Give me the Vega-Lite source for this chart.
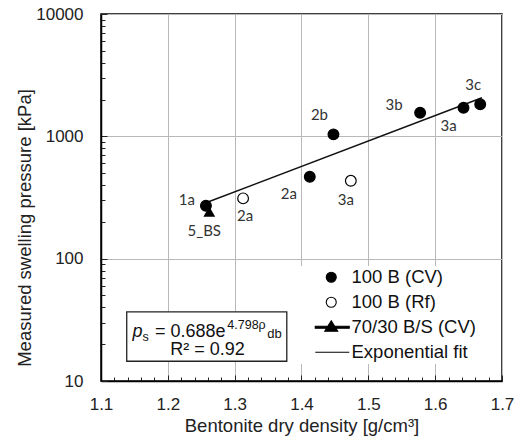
{
  "$schema": "https://vega.github.io/schema/vega-lite/v6.json",
  "width": 401,
  "height": 367,
  "autosize": "none",
  "padding": {"left": 101, "top": 14, "right": 24, "bottom": 63},
  "background": "white",
  "config": {
    "view": {"stroke": "black", "strokeWidth": 1.5},
    "axis": {
      "labelFont": "Liberation Sans",
      "labelFontSize": 17,
      "labelColor": "#222",
      "titleFont": "Liberation Sans",
      "titleFontSize": 18.5,
      "titleFontWeight": "normal",
      "titleColor": "#222",
      "domainColor": "black",
      "domainWidth": 1.5,
      "tickColor": "#222",
      "tickWidth": 1,
      "gridColor": "#b8b8b8",
      "gridWidth": 1
    }
  },
  "datasets": {
    "points": [
      {"id": "cv1a", "series": "100 B (CV)", "density": 1.257, "pressure": 271, "label": "1a"},
      {"id": "cv2a", "series": "100 B (CV)", "density": 1.4124, "pressure": 467, "label": "2a"},
      {"id": "cv2b", "series": "100 B (CV)", "density": 1.4478, "pressure": 1038, "label": "2b"},
      {"id": "cv3b", "series": "100 B (CV)", "density": 1.5775, "pressure": 1560, "label": "3b"},
      {"id": "cv3a", "series": "100 B (CV)", "density": 1.6424, "pressure": 1714, "label": "3a"},
      {"id": "cv3c", "series": "100 B (CV)", "density": 1.6674, "pressure": 1827, "label": "3c"},
      {"id": "rf2a", "series": "100 B (Rf)", "density": 1.3126, "pressure": 311, "label": "2a"},
      {"id": "rf3a", "series": "100 B (Rf)", "density": 1.4738, "pressure": 433, "label": "3a"},
      {"id": "bs5", "series": "70/30 B/S (CV)", "density": 1.262, "pressure": 242, "label": "5_BS"}
    ],
    "fit": [
      {"series": "Exponential fit", "density": 1.258, "pressure": 287.7},
      {"series": "Exponential fit", "density": 1.67, "pressure": 2067.0}
    ]
  },
  "resolve": {"axis": {"x": "independent", "y": "independent"}},
  "layer": [
    {
      "data": {"name": "points"},
      "encoding": {
        "x": {
          "field": "density", "type": "quantitative",
          "scale": {"domain": [1.1, 1.7], "nice": false, "zero": false},
          "axis": {
            "title": "Bentonite dry density [g/cm³]",
            "values": [1.1,1.12,1.14,1.16,1.18,1.2,1.22,1.24,1.26,1.28,1.3,1.32,1.34,1.36,1.38,1.4,1.42,1.44,1.46,1.48,1.5,1.52,1.54,1.56,1.58,1.6,1.62,1.64,1.66,1.68,1.7],
            "labelExpr": "abs(datum.value*10 - round(datum.value*10)) < 0.001 ? format(datum.value, '.1f') : ''",
            "gridOpacity": {"condition": {"test": "abs(datum.value*10 - round(datum.value*10)) < 0.001", "value": 1}, "value": 0},
            "tickSize": {"condition": {"test": "abs(datum.value*10 - round(datum.value*10)) < 0.001", "value": -6}, "value": -4},
            "labelPadding": 21,
            "labelFlush": false,
            "labelOverlap": false,
            "titleY": 35,
            "titleBaseline": "top"
          }
        },
        "y": {
          "field": "pressure", "type": "quantitative",
          "scale": {"type": "log", "domain": [10, 10000], "nice": false},
          "axis": {
            "title": "Measured swelling pressure [kPa]",
            "values": [10,20,30,40,50,60,70,80,90,100,200,300,400,500,600,700,800,900,1000,2000,3000,4000,5000,6000,7000,8000,9000,10000],
            "labelExpr": "indexof([10,100,1000,10000], datum.value) >= 0 ? '' + datum.value : ''",
            "gridOpacity": {"condition": {"test": "indexof([10,100,1000,10000], datum.value) >= 0", "value": 1}, "value": 0},
            "tickSize": {"condition": {"test": "indexof([10,100,1000,10000], datum.value) >= 0", "value": -6}, "value": -4},
            "labelPadding": 24,
            "labelFlush": false,
            "labelOverlap": false,
            "titleX": -77,
            "titleY": 213.5,
            "titleBaseline": "middle"
          }
        }
      },
      "layer": [
        {
          "data": {"name": "fit"},
          "mark": {"type": "line", "color": "#111", "strokeWidth": 1.5}
        },
        {
          "transform": [{"filter": "datum.id === 'bs5'"}],
          "mark": {"type": "point", "shape": "triangle-up", "filled": true, "color": "black", "size": 140, "opacity": 1}
        },
        {
          "transform": [{"filter": "datum.id !== 'bs5'"}],
          "mark": {"type": "point", "filled": true, "strokeWidth": 1.2, "size": 115, "opacity": 1},
          "encoding": {
            "shape": {
              "field": "series", "type": "nominal",
              "scale": {
                "domain": ["100 B (CV)", "100 B (Rf)", "70/30 B/S (CV)", "Exponential fit"],
                "range": ["circle", "circle", "M-3.2,-0.2H3.6V0.2H-3.2Z M0,-1.3L1.3,0.8L-1.3,0.8Z", "M-3.2,0H3.6"]
              },
              "legend": {
                "title": null, "orient": "none", "legendX": 195, "legendY": 252,
                "labelFont": "Liberation Sans", "labelFontSize": 18.5, "labelColor": "#111",
                "symbolSize": 100, "symbolStrokeWidth": 1.1, "symbolOffset": 24, "labelOffset": 11,
                "rowPadding": 6, "padding": 2, "fillColor": "white", "labelLimit": 300
              }
            },
            "fill": {
              "field": "series", "type": "nominal",
              "scale": {
                "domain": ["100 B (CV)", "100 B (Rf)", "70/30 B/S (CV)", "Exponential fit"],
                "range": ["black", "white", "black", "black"]
              },
              "legend": {
                "title": null, "orient": "none", "legendX": 195, "legendY": 252,
                "labelFont": "Liberation Sans", "labelFontSize": 18.5, "labelColor": "#111",
                "symbolSize": 100, "symbolStrokeWidth": 1.1, "symbolOffset": 24, "labelOffset": 11,
                "rowPadding": 6, "padding": 2, "fillColor": "white", "labelLimit": 300
              }
            },
            "stroke": {
              "field": "series", "type": "nominal",
              "scale": {
                "domain": ["100 B (CV)", "100 B (Rf)", "70/30 B/S (CV)", "Exponential fit"],
                "range": ["black", "black", "black", "black"]
              },
              "legend": {
                "title": null, "orient": "none", "legendX": 195, "legendY": 252,
                "labelFont": "Liberation Sans", "labelFontSize": 18.5, "labelColor": "#111",
                "symbolSize": 100, "symbolStrokeWidth": 1.1, "symbolOffset": 24, "labelOffset": 11,
                "rowPadding": 6, "padding": 2, "fillColor": "white", "labelLimit": 300
              }
            }
          }
        },
        {"transform": [{"filter": "datum.id === 'cv1a'"}], "mark": {"type": "text", "font": "Lato", "fontSize": 15, "color": "#333", "dx": -19, "dy": -6}, "encoding": {"text": {"field": "label"}}},
        {"transform": [{"filter": "datum.id === 'bs5'"}], "mark": {"type": "text", "font": "Lato", "fontSize": 15, "color": "#333", "dx": -5, "dy": 19}, "encoding": {"text": {"field": "label"}}},
        {"transform": [{"filter": "datum.id === 'rf2a'"}], "mark": {"type": "text", "font": "Lato", "fontSize": 15, "color": "#333", "dx": 2, "dy": 18}, "encoding": {"text": {"field": "label"}}},
        {"transform": [{"filter": "datum.id === 'cv2a'"}], "mark": {"type": "text", "font": "Lato", "fontSize": 15, "color": "#333", "dx": -21, "dy": 17}, "encoding": {"text": {"field": "label"}}},
        {"transform": [{"filter": "datum.id === 'cv2b'"}], "mark": {"type": "text", "font": "Lato", "fontSize": 15, "color": "#333", "dx": -14, "dy": -19}, "encoding": {"text": {"field": "label"}}},
        {"transform": [{"filter": "datum.id === 'rf3a'"}], "mark": {"type": "text", "font": "Lato", "fontSize": 15, "color": "#333", "dx": -5, "dy": 19}, "encoding": {"text": {"field": "label"}}},
        {"transform": [{"filter": "datum.id === 'cv3b'"}], "mark": {"type": "text", "font": "Lato", "fontSize": 15, "color": "#333", "dx": -26, "dy": -8}, "encoding": {"text": {"field": "label"}}},
        {"transform": [{"filter": "datum.id === 'cv3a'"}], "mark": {"type": "text", "font": "Lato", "fontSize": 15, "color": "#333", "dx": -15, "dy": 18}, "encoding": {"text": {"field": "label"}}},
        {"transform": [{"filter": "datum.id === 'cv3c'"}], "mark": {"type": "text", "font": "Lato", "fontSize": 15, "color": "#333", "dx": -7, "dy": -19}, "encoding": {"text": {"field": "label"}}}
      ]
    },
    {
      "data": {"values": [{}]},
      "mark": {"type": "rect", "fill": "white", "stroke": "#222", "strokeWidth": 1.3},
      "encoding": {
        "x": {"datum": 1.1385, "type": "quantitative", "axis": null},
        "x2": {"datum": 1.378},
        "y": {"datum": 36.8, "type": "quantitative", "axis": null},
        "y2": {"datum": 14.5}
      }
    },
    {
      "data": {"values": [{}]},
      "mark": {"type": "text", "font": "Liberation Sans", "fontSize": 18, "fontStyle": "italic", "color": "#111", "align": "left", "baseline": "alphabetic", "dx": -75.5, "dy": 0},
      "encoding": {"x": {"datum": 1.26, "type": "quantitative", "axis": null}, "y": {"datum": 23, "type": "quantitative", "axis": null}, "text": {"value": "p"}}
    },
    {
      "data": {"values": [{}]},
      "mark": {"type": "text", "font": "Liberation Sans", "fontSize": 12.5, "color": "#111", "align": "left", "baseline": "alphabetic", "dx": -65.5, "dy": 4},
      "encoding": {"x": {"datum": 1.26, "type": "quantitative", "axis": null}, "y": {"datum": 23, "type": "quantitative", "axis": null}, "text": {"value": "s"}}
    },
    {
      "data": {"values": [{}]},
      "mark": {"type": "text", "font": "Liberation Sans", "fontSize": 18, "color": "#111", "align": "left", "baseline": "alphabetic", "dx": -53, "dy": 0},
      "encoding": {"x": {"datum": 1.26, "type": "quantitative", "axis": null}, "y": {"datum": 23, "type": "quantitative", "axis": null}, "text": {"value": "= 0.688e"}}
    },
    {
      "data": {"values": [{}]},
      "mark": {"type": "text", "font": "Liberation Sans", "fontSize": 12.5, "color": "#111", "align": "left", "baseline": "alphabetic", "dx": 19.4, "dy": -8},
      "encoding": {"x": {"datum": 1.26, "type": "quantitative", "axis": null}, "y": {"datum": 23, "type": "quantitative", "axis": null}, "text": {"value": "4.798ρ"}}
    },
    {
      "data": {"values": [{}]},
      "mark": {"type": "text", "font": "Liberation Sans", "fontSize": 13, "color": "#111", "align": "left", "baseline": "alphabetic", "dx": 59.4, "dy": 1},
      "encoding": {"x": {"datum": 1.26, "type": "quantitative", "axis": null}, "y": {"datum": 23, "type": "quantitative", "axis": null}, "text": {"value": "db"}}
    },
    {
      "data": {"values": [{}]},
      "mark": {"type": "text", "font": "Liberation Sans", "fontSize": 18, "color": "#111", "align": "center", "baseline": "alphabetic", "dx": -0.5, "dy": 18.3},
      "encoding": {"x": {"datum": 1.26, "type": "quantitative", "axis": null}, "y": {"datum": 23, "type": "quantitative", "axis": null}, "text": {"value": "R² = 0.92"}}
    }
  ]
}
